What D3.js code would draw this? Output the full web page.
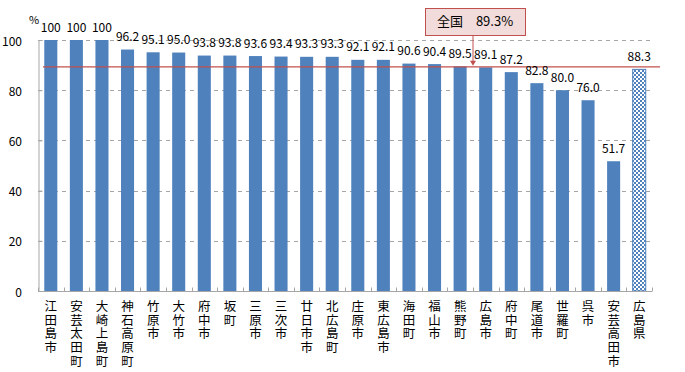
<!DOCTYPE html>
<html>
<head>
<meta charset="utf-8">
<script src="https://cdn.jsdelivr.net/npm/d3@7"></script>
<style>
  body { margin: 0; background: #fff; }
  svg { display: block; font-family: "Noto Sans CJK JP", "DejaVu Sans", sans-serif; }
</style>
</head>
<body>
<svg id="chart"></svg>
<script>
// municipalities, sorted as in the source chart
const cities = ["江田島市", "安芸太田町", "大崎上島町", "神石高原町", "竹原市", "大竹市", "府中市", "坂町",
  "三原市", "三次市", "廿日市市", "北広島町", "庄原市", "東広島市", "海田町", "福山市",
  "熊野町", "広島市", "府中町", "尾道市", "世羅町", "呉市", "安芸高田市", "広島県"];
const rates = [100, 100, 100, 96.2, 95.1, 95.0, 93.8, 93.8, 93.6, 93.4, 93.3, 93.3,
  92.1, 92.1, 90.6, 90.4, 89.5, 89.1, 87.2, 82.8, 80.0, 76.0, 51.7, 88.3];
const yTicks = [0, 20, 40, 60, 80, 100];
const national = 89.3;
const nationalLabel = "全国　89.3%";
const prefName = "広島県";

const W = 685, H = 372;
const margin = {top: 40, right: 33, bottom: 81, left: 38};

const svg = d3.select("#chart").attr("width", W).attr("height", H);

const x = d3.scaleBand()
  .domain(cities)
  .range([margin.left, W - margin.right])
  .paddingInner(0.49)
  .paddingOuter(0.245);

const y = d3.scaleLinear()
  .domain([0, 100])
  .range([H - margin.bottom, margin.top]);

const defs = svg.append("defs");
const pat = defs.append("pattern")
  .attr("id", "checker")
  .attr("width", 4).attr("height", 4)
  .attr("patternUnits", "userSpaceOnUse");
pat.append("rect").attr("width", 4).attr("height", 4).attr("fill", "#fff");
pat.append("rect").attr("width", 2).attr("height", 2).attr("fill", "#4f81bd");
pat.append("rect").attr("x", 2).attr("y", 2).attr("width", 2).attr("height", 2).attr("fill", "#4f81bd");

// gridlines
svg.append("g")
  .selectAll("line")
  .data(yTicks.filter(d => d > 0))
  .enter().append("line")
  .attr("x1", margin.left)
  .attr("x2", W - margin.right)
  .attr("y1", d => Math.round(y(d)) + 0.5)
  .attr("y2", d => Math.round(y(d)) + 0.5)
  .attr("stroke", "#a6a6a6")
  .attr("stroke-dasharray", "4,4");

// y axis
const yAxis = svg.append("g")
  .attr("transform", "translate(" + (margin.left + 0.5) + ",0)")
  .call(d3.axisRight(y).tickValues(yTicks).tickSize(4).tickFormat(""));
yAxis.select(".domain").attr("stroke", "#a6a6a6");
yAxis.selectAll(".tick line").attr("stroke", "#a6a6a6");

svg.append("g")
  .selectAll("text")
  .data(yTicks)
  .enter().append("text")
  .attr("x", 22)
  .attr("y", d => y(d) + 5.5)
  .attr("text-anchor", "end")
  .attr("font-size", 12)
  .attr("fill", "#000")
  .text(d => d);

svg.append("text")
  .attr("x", 29).attr("y", 24)
  .attr("font-size", 11)
  .text("%");

// bars
svg.append("g")
  .selectAll("rect")
  .data(cities)
  .enter().append("rect")
  .attr("x", d => x(d))
  .attr("width", x.bandwidth())
  .attr("y", (d, i) => y(rates[i]))
  .attr("height", (d, i) => y(0) - y(rates[i]))
  .attr("fill", d => d === prefName ? "url(#checker)" : "#4f81bd")
  .attr("stroke", d => d === prefName ? "#4f81bd" : "none")
  .attr("stroke-width", 1);

// x axis
const xAxisY = Math.round(y(0)) + 0.5;
svg.append("line")
  .attr("x1", margin.left).attr("x2", W - margin.right)
  .attr("y1", xAxisY).attr("y2", xAxisY)
  .attr("stroke", "#a6a6a6");
const step = x.step();
svg.append("g")
  .selectAll("line")
  .data(d3.range(cities.length + 1))
  .enter().append("line")
  .attr("x1", i => Math.round(margin.left + i * step) + 0.5)
  .attr("x2", i => Math.round(margin.left + i * step) + 0.5)
  .attr("y1", xAxisY - 4)
  .attr("y2", xAxisY)
  .attr("stroke", "#a6a6a6");

// national average line
svg.append("line")
  .attr("x1", 43).attr("x2", 660)
  .attr("y1", y(national)).attr("y2", y(national))
  .attr("stroke", "#c0504d")
  .attr("stroke-width", 1.2);

// value labels
svg.append("g")
  .selectAll("text")
  .data(cities)
  .enter().append("text")
  .attr("x", d => x(d) + x.bandwidth() / 2)
  .attr("y", (d, i) => y(rates[i]) - 8.5)
  .attr("text-anchor", "middle")
  .attr("font-size", 12)
  .text((d, i) => rates[i] === 100 ? "100" : rates[i].toFixed(1));

// category labels, one character per line
const catG = svg.append("g")
  .selectAll("g")
  .data(cities)
  .enter().append("g")
  .attr("transform", d => "translate(" + (x(d) + x.bandwidth() / 2) + ",0)");
catG.selectAll("text")
  .data(d => Array.from(d))
  .enter().append("text")
  .attr("x", 0)
  .attr("y", (ch, k) => 311 + k * 13.7)
  .attr("text-anchor", "middle")
  .attr("font-size", 12.5)
  .text(ch => ch);

// annotation box
const boxX = 425, boxY = 8, boxW = 100, boxH = 27;
const arrowX = 473;
svg.append("line")
  .attr("x1", arrowX).attr("x2", arrowX)
  .attr("y1", boxY + boxH).attr("y2", y(national) - 5)
  .attr("stroke", "#c0504d");
svg.append("path")
  .attr("d", "M" + (arrowX - 3) + "," + (y(national) - 6) + "L" + (arrowX + 3) + "," + (y(national) - 6) + "L" + arrowX + "," + (y(national) - 1) + "Z")
  .attr("fill", "#c0504d");
svg.append("rect")
  .attr("x", boxX + 0.5).attr("y", boxY + 0.5)
  .attr("width", boxW).attr("height", boxH)
  .attr("fill", "#f2dcdb")
  .attr("stroke", "#c0504d");
svg.append("text")
  .attr("x", boxX + boxW / 2).attr("y", boxY + 18)
  .attr("text-anchor", "middle")
  .attr("font-size", 13)
  .text(nationalLabel);
</script>
</body>
</html>
